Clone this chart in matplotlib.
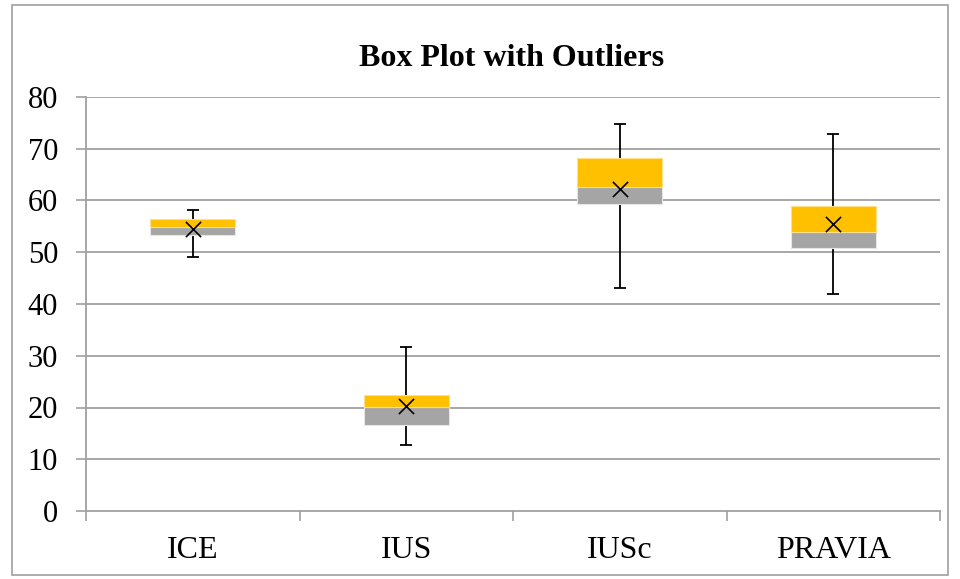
import matplotlib
matplotlib.use("Agg")
import matplotlib.pyplot as plt
from matplotlib.patches import Rectangle

categories = ["ICE", "IUS", "IUSc", "PRAVIA"]
whisker_low = [49.1, 12.8, 43.1, 42.0]
q1 = [53.4, 16.7, 59.3, 50.8]
median = [54.9, 20.1, 62.7, 54.0]
q3 = [56.4, 22.5, 68.2, 58.9]
whisker_high = [58.1, 31.7, 74.8, 72.9]
means = [54.5, 20.35, 62.2, 55.5]
yticks = [0, 10, 20, 30, 40, 50, 60, 70, 80]

plt.rcParams['font.family'] = ['Liberation Serif', 'DejaVu Serif']

fig = plt.figure(figsize=(9.6, 5.79), dpi=100)
ax = fig.add_axes([86/960, 1 - 511/579, (940-86)/960, (511-97)/579])

x = list(range(len(categories)))
grid_c = '#A0A0A0'
for t in yticks[1:]:
    ax.axhline(t, color=grid_c, lw=1.3, zorder=0)

cap = 0.029
ax.vlines(x, q3, whisker_high, color='black', lw=1.3, zorder=2)
ax.vlines(x, whisker_low, q1, color='black', lw=1.3, zorder=2)
ax.hlines(whisker_high, [i - cap for i in x], [i + cap for i in x], color='black', lw=1.3, zorder=2)
ax.hlines(whisker_low, [i - cap for i in x], [i + cap for i in x], color='black', lw=1.3, zorder=2)

lower_h = [m - a for m, a in zip(median, q1)]
upper_h = [b - m for b, m in zip(q3, median)]
ax.bar(x, lower_h, bottom=q1, width=0.4, color='#A5A5A5', edgecolor='#E6E6E6', linewidth=0.8, zorder=3)
ax.bar(x, upper_h, bottom=median, width=0.4, color='#FFC000', edgecolor='#FFE08A', linewidth=0.8, zorder=3)
ax.scatter(x, means, marker='x', s=120, color='black', linewidths=1.2, zorder=4)

ax.set_xlim(-0.5, len(categories) - 0.5)
ax.set_ylim(0, 80)
ax.set_yticks(yticks)
ax.set_yticklabels([str(t) for t in yticks], fontsize=22)
ax.set_xticks(x)
ax.set_xticklabels(categories, fontsize=23)
ax.set_xticks([i - 0.5 for i in range(len(categories) + 1)], minor=True)
ax.tick_params(axis='x', which='major', length=0, pad=18)
ax.tick_params(axis='x', which='minor', length=7, color=grid_c, width=1.2)
ax.tick_params(axis='y', length=7, color=grid_c, width=1.2, pad=13)

for s in ['top', 'right']:
    ax.spines[s].set_visible(False)
for s in ['left', 'bottom']:
    ax.spines[s].set_color(grid_c)
    ax.spines[s].set_linewidth(1.3)

fig.text(512/960, 1 - 59/579, "Box Plot with Outliers", ha='center', va='center',
         fontsize=23, fontweight='bold')

fig.patches.append(Rectangle((12/960, 4/579), (948-12)/960, (574-4)/579,
                             transform=fig.transFigure, fill=False,
                             edgecolor='#A0A0A0', linewidth=1.2))

fig.savefig("out.png", dpi=100)
